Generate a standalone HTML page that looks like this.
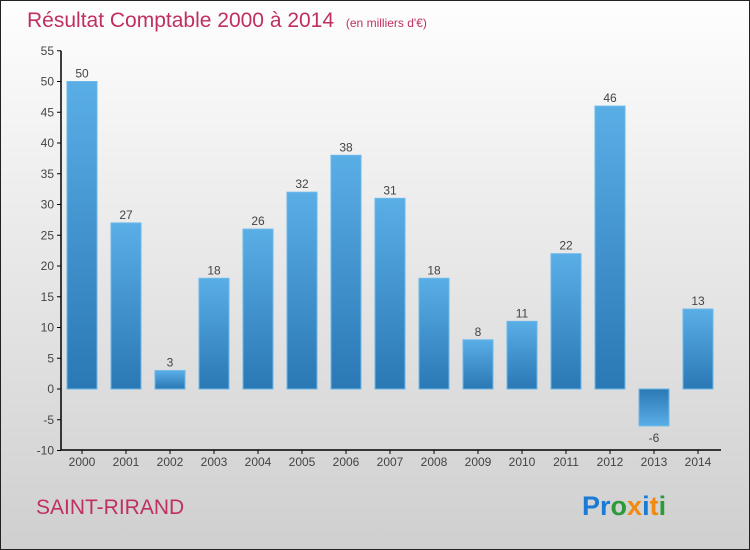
<!DOCTYPE html>
<html><head><meta charset="utf-8"><style>
body{margin:0}
svg{display:block;font-family:"Liberation Sans",sans-serif}
</style></head><body>
<svg id="c" width="750" height="550" viewBox="0 0 750 550">
<defs>
<linearGradient id="bg" x1="0" y1="0" x2="0" y2="1"><stop offset="0" stop-color="#fefefe"/><stop offset="1" stop-color="#cfcfcf"/></linearGradient>
<linearGradient id="bp" x1="0" y1="0" x2="0" y2="1"><stop offset="0" stop-color="#5aaee6"/><stop offset="1" stop-color="#2a78b4"/></linearGradient>
<linearGradient id="bn" x1="0" y1="0" x2="0" y2="1"><stop offset="0" stop-color="#2a78b4"/><stop offset="1" stop-color="#5aaee6"/></linearGradient>
</defs>
<rect x="0.5" y="0.5" width="749" height="549" fill="url(#bg)" stroke="#222"/>
<text x="27" y="27" font-size="21" fill="#c0305f">Résultat Comptable 2000 à 2014 <tspan font-size="12" dx="6">(en milliers d'€)</tspan></text>
<g id="plot"></g>
<text x="36" y="514" font-size="21" fill="#c0305f">SAINT-RIRAND</text>
<text x="582" y="515" font-size="27" font-weight="bold"><tspan fill="#1a7ad4">Pr</tspan><tspan fill="#2a9a3a">o</tspan><tspan fill="#f08a10">x</tspan><tspan fill="#1a7ad4">i</tspan><tspan fill="#f08a10">t</tspan><tspan fill="#2a9a3a">i</tspan></text>
</svg>
<script>
const years=["2000","2001","2002","2003","2004","2005","2006","2007","2008","2009","2010","2011","2012","2013","2014"];
const values=[50,27,3,18,26,32,38,31,18,8,11,22,46,-6,13];
const yTicks=[-10,-5,0,5,10,15,20,25,30,35,40,45,50,55];
const NS="http://www.w3.org/2000/svg";
const g=document.getElementById('plot');
const y=v=>389-(v*6.15);
const x=i=>82+i*44;
function mk(t,a){const e=document.createElementNS(NS,t);for(const k in a)e.setAttribute(k,a[k]);g.appendChild(e);return e;}
yTicks.forEach(t=>{
 const l=mk('line',{x1:57,x2:61,y1:y(t),y2:y(t),stroke:'#000'});
 
 
 const tx=mk('text',{x:54,y:y(t)+4,'font-size':12,fill:'#444','text-anchor':'end'});
 tx.textContent=t;
 
 
});
values.forEach((v,i)=>{
 const top=Math.min(y(v),y(0)),h=Math.abs(y(v)-y(0));
 const r=mk('rect',{x:x(i)-15,y:top,width:30,height:h,fill:v>=0?'url(#bp)':'url(#bn)',stroke:'#6ab8ea','stroke-width':1});
 
 
 const lt=mk('text',{x:x(i),y:v>=0?y(v)-4:y(v)+16,'font-size':12,fill:'#444','text-anchor':'middle'});
 lt.textContent=v;
 
 
 const tk=mk('line',{x1:x(i),x2:x(i),y1:450,y2:454,stroke:'#000'});
 
 
 const xl=mk('text',{x:x(i),y:466,'font-size':12,fill:'#444','text-anchor':'middle'});
 xl.textContent=years[i];
 
 
});
const ya=mk('line',{x1:61,x2:61,y1:y(55),y2:450,stroke:'#000','stroke-width':1.5});


const xa=mk('line',{x1:61,x2:721,y1:450,y2:450,stroke:'#000','stroke-width':1.5});


</script>
</body></html>
